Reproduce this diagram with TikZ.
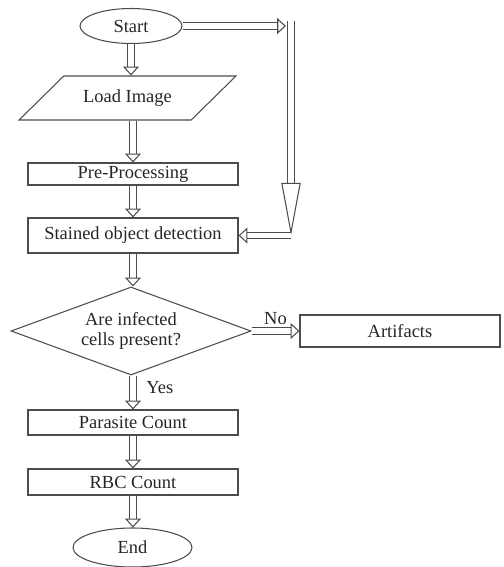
\documentclass[tikz,border=0pt]{standalone}
\usepackage{fontspec}
\setmainfont{Liberation Serif}
\usetikzlibrary{arrows.meta,shapes.geometric}
\colorlet{linegrey}{black!70}
\colorlet{textgrey}{black!85}

\begin{document}
\begin{tikzpicture}[
    every node/.style={font=\fontsize{10.5}{11}\selectfont,text=textgrey},
    box/.style={rectangle,draw=linegrey,line width=0.6pt,minimum width=4.2cm,inner sep=1pt},
    terminal/.style={ellipse,draw=linegrey,line width=0.6pt,inner sep=0pt},
    io/.style={trapezium,trapezium left angle=39,trapezium right angle=141,trapezium stretches=true,draw=linegrey,line width=0.6pt,minimum width=4.38cm,minimum height=0.88cm},
    decision/.style={diamond,aspect=2.73,draw=linegrey,line width=0.6pt,align=center,inner sep=0pt,minimum width=4.8cm,minimum height=1.76cm},
    flow/.style={draw=linegrey,line width=0.6pt,double,double distance=3.2pt,-{Triangle[open,length=5pt,width=9pt,line width'=0.6pt]}},
    long flow/.style={flow,-{Triangle[open,length=30pt,width=11pt,line width'=0.6pt]}}
]
\useasboundingbox (0,0) rectangle (10.06,-11.34);

% main column
\node [terminal,minimum width=2.04cm,minimum height=0.7cm] (start) at (2.62,-0.52) {Start};
\node [io] (load) at (2.55,-1.96) {Load Image};
\node [box,minimum height=0.44cm] (pre) at (2.66,-3.48) {Pre-Processing};
\node [box,minimum height=0.7cm] (stained) at (2.66,-4.71) {Stained object detection};
\node [decision] (decide) at (2.62,-6.62) {Are infected\\cells present?};
\node [box,minimum width=4cm,minimum height=0.64cm] (artifacts) at (8.0,-6.62) {Artifacts};
\node [box,minimum height=0.5cm] (parasite) at (2.66,-8.45) {Parasite Count};
\node [box,minimum height=0.52cm] (rbc) at (2.66,-9.64) {RBC Count};
\node [terminal,minimum width=2.38cm,minimum height=0.78cm] (finish) at (2.65,-10.95) {End};

\draw [flow] (start.south) -- (start.south |- load.north);
\draw [flow] (load.south -| pre.north) -- (pre.north);
\draw [flow] (pre.south) -- (stained.north);
\draw [flow] (stained.south) -- (stained.south |- decide.north);
\draw [flow] (decide.east) -- (artifacts.west) node [above,midway] (no) {No};
\draw [flow] (decide.south -| parasite.north) -- (parasite.north) node [right=4pt,pos=0.35] (yes) {Yes};
\draw [flow] (parasite.south) -- (rbc.north);
\draw [flow] (rbc.south) -- (rbc.south |- finish.north);

% loop on the right
\coordinate (loop top) at (5.82,-0.42);
\coordinate (loop bot) at (loop top |- stained.east);
\draw [flow,shorten >=0.1cm] (start.east) -- (start.east -| loop top);
\draw [long flow] (loop top) -- (loop bot);
\draw [flow] (loop bot) -- (stained.east);

\end{tikzpicture}
\end{document}
